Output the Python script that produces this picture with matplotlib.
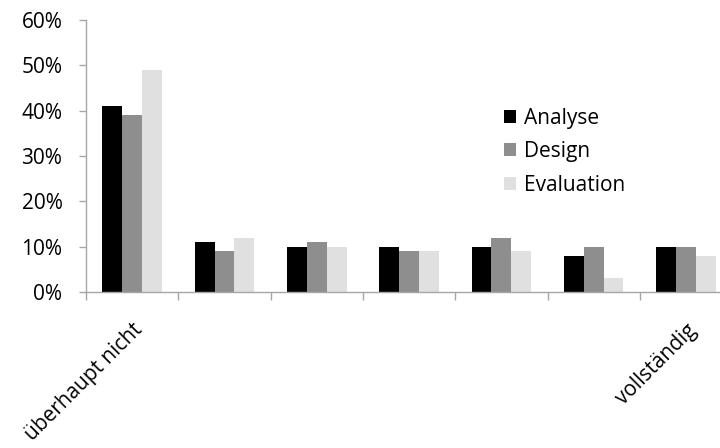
import matplotlib.pyplot as plt
import matplotlib.transforms as mtransforms
import numpy as np
from matplotlib.patches import Patch

# Response distribution per phase, in percent
categories = ['überhaupt nicht', '', '', '', '', '', 'vollständig']
analyse = [41, 11, 10, 10, 10, 8, 10]
design = [39, 9, 11, 9, 12, 10, 10]
evaluation = [49, 12, 10, 9, 9, 3, 8]
series_names = ['Analyse', 'Design', 'Evaluation']
colors = ['#000000', '#8E8E8E', '#E0E0E0']

plt.rcParams['font.family'] = ['Open Sans', 'DejaVu Sans']
axis_gray = '#A6A6A6'
fs = 15

fig = plt.figure(figsize=(7.2, 4.48), dpi=100)
ax = fig.add_axes([86 / 720, 156 / 448, 634 / 720, 272 / 448])

x = np.arange(len(categories))
width = 0.215
for i, (vals, name, col) in enumerate(zip([analyse, design, evaluation], series_names, colors)):
    ax.bar(x + (i - 1) * width, vals, width, color=col, label=name)

ax.set_ylim(0, 60)
ax.set_yticks(range(0, 61, 10))
ax.set_yticklabels([f'{v}%' for v in range(0, 61, 10)], fontsize=fs)
ax.set_xlim(-0.5, -0.5 + 634 / 92.3)

# category boundaries carry the tick marks, centres carry the labels
ax.set_xticks(np.arange(len(categories)) - 0.5)
ax.set_xticklabels([])
ax.set_xticks(x, minor=True)
ax.set_xticklabels(categories, minor=True, rotation=45, ha='right', va='top',
                   rotation_mode='anchor', fontsize=fs)
shift = mtransforms.ScaledTranslation(0.10, 0, fig.dpi_scale_trans)
for lbl in ax.get_xticklabels(minor=True):
    lbl.set_transform(lbl.get_transform() + shift)
ax.tick_params(axis='x', which='major', length=6, color=axis_gray, width=1)
ax.tick_params(axis='x', which='minor', length=0, pad=20)
ax.tick_params(axis='y', length=5, color=axis_gray, width=1, pad=12)

for side in ['top', 'right']:
    ax.spines[side].set_visible(False)
for side in ['left', 'bottom']:
    ax.spines[side].set_color(axis_gray)
    ax.spines[side].set_linewidth(1)

handles = [Patch(facecolor=c) for c in colors]
ax.legend(handles, series_names, loc='upper left', bbox_to_anchor=(487 / 720, 1 - 91 / 448),
          bbox_transform=fig.transFigure, frameon=False, fontsize=fs,
          handlelength=0.6, handleheight=0.6, handletextpad=0.4, labelspacing=0.6,
          borderpad=0.3)

fig.savefig('out.png', dpi=100)
